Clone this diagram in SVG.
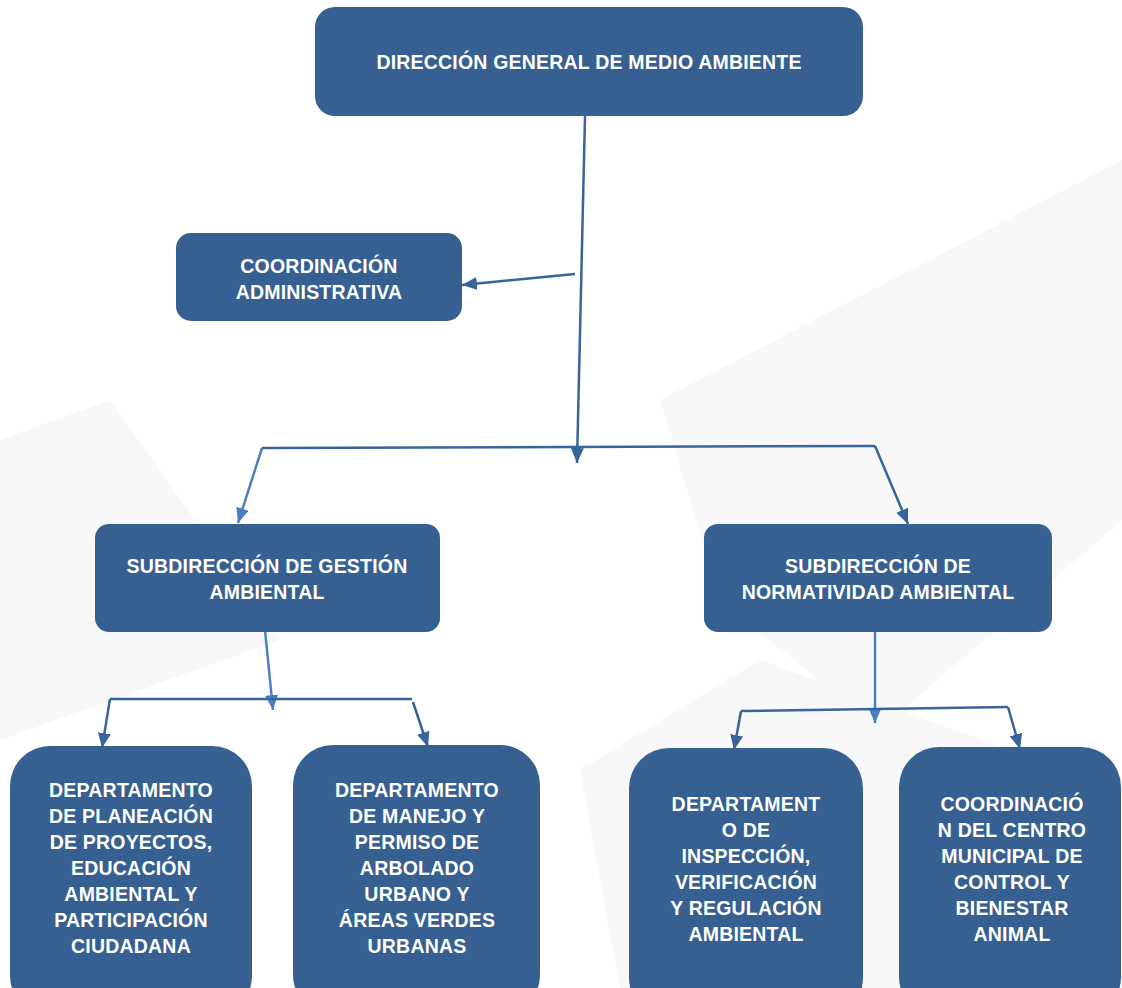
<svg xmlns="http://www.w3.org/2000/svg" width="1122" height="988" viewBox="0 0 1122 988">
<style>
.node{fill:#376092;}
.t{font-family:"Liberation Sans",Arial,sans-serif;font-weight:bold;font-size:19.5px;fill:#ffffff;text-anchor:middle;letter-spacing:0.2px;}
.c{stroke:#37649b;stroke-width:2.5;fill:none;}
.cl{stroke:#4a7ec0;stroke-width:2.5;fill:none;}
</style>
<defs>
<marker id="ah" viewBox="0 0 15 13" refX="15" refY="6.5" markerWidth="15" markerHeight="13" markerUnits="userSpaceOnUse" orient="auto">
<path d="M0,0 L15,6.5 L0,13 Z" fill="#37649b"/>
</marker>
<marker id="ahl" viewBox="0 0 15 13" refX="15" refY="6.5" markerWidth="15" markerHeight="13" markerUnits="userSpaceOnUse" orient="auto">
<path d="M0,0 L15,6.5 L0,13 Z" fill="#4a7ec0"/>
</marker>
</defs>
<rect width="1122" height="988" fill="#ffffff"/>
<g id="bg" fill="#f8f8f9">
<polygon points="660,400 1122,160 1122,520 880,730 720,600"/>
<polygon points="0,440 110,400 280,640 0,740"/>
<polygon points="580,770 760,660 1122,790 1122,988 620,988"/>
</g>
<g id="connectors">
<path class="c" d="M585,116 L577,463" marker-end="url(#ah)"/>
<path class="c" d="M575,274 L462,285" marker-end="url(#ah)"/>
<path class="c" d="M262,448 L875,446"/>
<path class="cl" d="M262,448 L238,523" marker-end="url(#ahl)"/>
<path class="c" d="M875,446 L908,524" marker-end="url(#ah)"/>
<path class="cl" d="M265,630 L273,710" marker-end="url(#ahl)"/>
<path class="c" d="M110,699 L412,699"/>
<path class="c" d="M110,699 L102,748" marker-end="url(#ah)"/>
<path class="c" d="M413,702 L428,747" marker-end="url(#ah)"/>
<path class="cl" d="M875,632 L875,723" marker-end="url(#ahl)"/>
<path class="c" d="M741,711 L1008,707"/>
<path class="c" d="M741,711 L734,750" marker-end="url(#ah)"/>
<path class="c" d="M1008,707 L1020,749" marker-end="url(#ah)"/>
</g>
<g id="n-direccion">
<rect class="node" x="315" y="7" width="548" height="109" rx="20"/>
<text class="t" x="589" y="69">DIRECCIÓN GENERAL DE MEDIO AMBIENTE</text>
</g>
<g id="n-coord-admin">
<rect class="node" x="176" y="233" width="286" height="88" rx="15"/>
<text class="t" x="319" y="273">COORDINACIÓN</text>
<text class="t" x="319" y="299">ADMINISTRATIVA</text>
</g>
<g id="n-sub-gestion">
<rect class="node" x="95" y="524" width="345" height="108" rx="14"/>
<text class="t" x="267" y="573">SUBDIRECCIÓN DE GESTIÓN</text>
<text class="t" x="267" y="599">AMBIENTAL</text>
</g>
<g id="n-sub-normatividad">
<rect class="node" x="704" y="524" width="348" height="108" rx="14"/>
<text class="t" x="878" y="573">SUBDIRECCIÓN DE</text>
<text class="t" x="878" y="599">NORMATIVIDAD AMBIENTAL</text>
</g>
<g id="n-dep-planeacion">
<rect class="node" x="10" y="746" width="242" height="270" rx="40"/>
<text class="t" x="131" y="797">DEPARTAMENTO</text>
<text class="t" x="131" y="823">DE PLANEACIÓN</text>
<text class="t" x="131" y="849">DE PROYECTOS,</text>
<text class="t" x="131" y="875">EDUCACIÓN</text>
<text class="t" x="131" y="901">AMBIENTAL Y</text>
<text class="t" x="131" y="927">PARTICIPACIÓN</text>
<text class="t" x="131" y="953">CIUDADANA</text>
</g>
<g id="n-dep-arbolado">
<rect class="node" x="293" y="745" width="247" height="270" rx="40"/>
<text class="t" x="417" y="797">DEPARTAMENTO</text>
<text class="t" x="417" y="823">DE MANEJO Y</text>
<text class="t" x="417" y="849">PERMISO DE</text>
<text class="t" x="417" y="875">ARBOLADO</text>
<text class="t" x="417" y="901">URBANO Y</text>
<text class="t" x="417" y="927">ÁREAS VERDES</text>
<text class="t" x="417" y="953">URBANAS</text>
</g>
<g id="n-dep-inspeccion">
<rect class="node" x="629" y="748" width="234" height="270" rx="40"/>
<text class="t" x="746" y="811">DEPARTAMENT</text>
<text class="t" x="746" y="837">O DE</text>
<text class="t" x="746" y="863">INSPECCIÓN,</text>
<text class="t" x="746" y="889">VERIFICACIÓN</text>
<text class="t" x="746" y="915">Y REGULACIÓN</text>
<text class="t" x="746" y="941">AMBIENTAL</text>
</g>
<g id="n-coord-centro">
<rect class="node" x="899" y="747" width="222" height="270" rx="40"/>
<text class="t" x="1012" y="811">COORDINACIÓ</text>
<text class="t" x="1012" y="837">N DEL CENTRO</text>
<text class="t" x="1012" y="863">MUNICIPAL DE</text>
<text class="t" x="1012" y="889">CONTROL Y</text>
<text class="t" x="1012" y="915">BIENESTAR</text>
<text class="t" x="1012" y="941">ANIMAL</text>
</g>
</svg>
